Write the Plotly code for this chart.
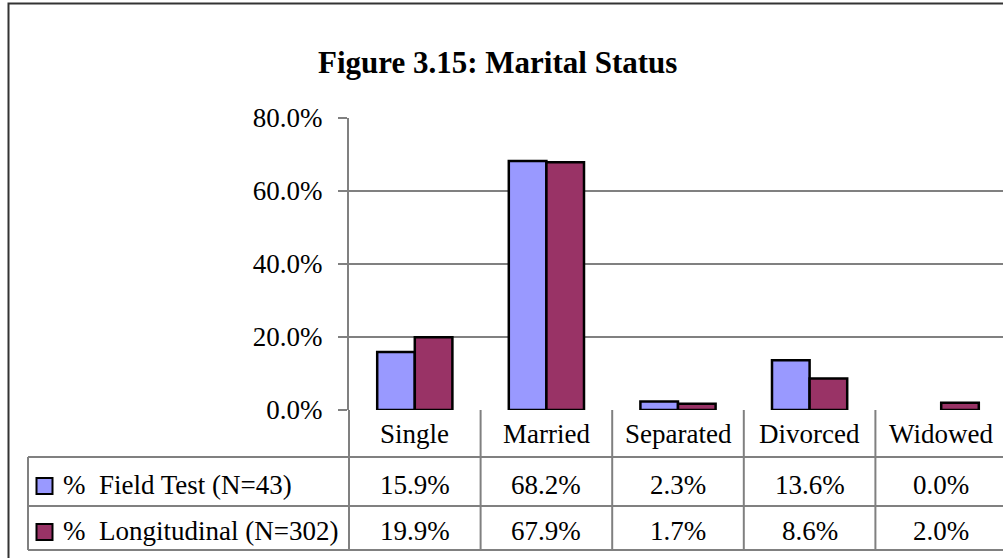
import plotly.graph_objects as go

categories = ["Single", "Married", "Separated", "Divorced", "Widowed"]
series_names = ["% Field Test (N=43)", "% Longitudinal (N=302)"]
field_test = [0.159, 0.682, 0.023, 0.136, 0.000]
longitudinal = [0.199, 0.679, 0.017, 0.086, 0.020]
y_ticks = [0.0, 0.2, 0.4, 0.6, 0.8]
colors = ["#9999FF", "#993366"]

W, H = 1003, 558
FONT = "Liberation Serif, Times New Roman, serif"


def px(x):
    return x / W


def py(y):
    return 1 - y / H


# layout geometry (pixels)
axis_x = 349
cat_w = 131.6
plot_top, plot_bottom = 118, 410
row_lines = [457, 506, 550]
table_left = 28

x_start = -0.5
x_end = x_start + (W - axis_x) / cat_w

fig = go.Figure()
for name, vals, col in zip(series_names, [field_test, longitudinal], colors):
    fig.add_trace(go.Bar(
        x=list(range(len(categories))),
        y=[v if v > 0 else None for v in vals],
        name=name,
        marker=dict(color=col, line=dict(color="black", width=2.5)),
        showlegend=False,
        hoverinfo="skip",
    ))

shapes = []
grey = "#808080"
# outer chart frame
shapes.append(dict(type="rect", xref="paper", yref="paper",
                   x0=px(8.5), x1=1.05, y0=-0.05, y1=py(3.5),
                   line=dict(color="#333333", width=2), layer="above"))
# table horizontal lines
for yl in row_lines:
    shapes.append(dict(type="line", xref="paper", yref="paper",
                       x0=px(table_left), x1=1.0, y0=py(yl), y1=py(yl),
                       line=dict(color=grey, width=2)))
# table verticals
shapes.append(dict(type="line", xref="paper", yref="paper",
                   x0=px(table_left), x1=px(table_left),
                   y0=py(row_lines[0]), y1=py(row_lines[-1]),
                   line=dict(color=grey, width=2)))
shapes.append(dict(type="line", xref="paper", yref="paper",
                   x0=px(axis_x), x1=px(axis_x),
                   y0=py(plot_bottom), y1=py(row_lines[-1]),
                   line=dict(color=grey, width=2)))
for i in range(len(categories)):
    xb = i + 0.5
    shapes.append(dict(type="line", xref="x", yref="paper",
                       x0=xb, x1=xb, y0=py(plot_bottom), y1=py(row_lines[-1]),
                       line=dict(color=grey, width=2)))

annotations = []
# title
annotations.append(dict(text="<b>Figure 3.15: Marital Status</b>", xref="paper", yref="paper",
                        x=px(497.5), y=py(62), showarrow=False,
                        font=dict(family=FONT, size=31, color="black"),
                        xanchor="center", yanchor="middle"))
# header row: category labels
for i, c in enumerate(categories):
    annotations.append(dict(text=c, xref="x", yref="paper", x=i, y=py(434),
                            showarrow=False, font=dict(family=FONT, size=27, color="black"),
                            xanchor="center", yanchor="middle"))
# data rows
row_centers = [485, 531]
for r, (name, vals, col) in enumerate(zip(series_names, [field_test, longitudinal], colors)):
    yc = row_centers[r]
    shapes.append(dict(type="rect", xref="paper", yref="paper",
                       x0=px(36.5), x1=px(52.5), y0=py(yc - 7), y1=py(yc + 9),
                       fillcolor=col, line=dict(color="black", width=2)))
    annotations.append(dict(text=name.replace("% ", "%&nbsp; ", 1), xref="paper", yref="paper",
                            x=px(61), y=py(yc), showarrow=False,
                            font=dict(family=FONT, size=27, color="black"),
                            xanchor="left", yanchor="middle"))
    for i, v in enumerate(vals):
        annotations.append(dict(text=f"{v * 100:.1f}%", xref="x", yref="paper", x=i, y=py(yc),
                                showarrow=False, font=dict(family=FONT, size=27, color="black"),
                                xanchor="center", yanchor="middle"))

fig.update_layout(
    width=W, height=H,
    margin=dict(l=0, r=0, t=0, b=0, pad=0, autoexpand=False),
    paper_bgcolor="white", plot_bgcolor="white",
    barmode="group", bargap=1 - 2 / 3.5, bargroupgap=0,
    shapes=shapes, annotations=annotations,
    hovermode=False,
    xaxis=dict(domain=[px(axis_x), 1.0], range=[x_start, x_end],
               showticklabels=False, showgrid=False, zeroline=False,
               showline=False, ticks="", automargin=False),
    yaxis=dict(domain=[py(plot_bottom), py(plot_top)], range=[0, 0.8],
               tickvals=y_ticks, tickformat=".1%", automargin=False,
               tickfont=dict(family=FONT, size=27, color="black"),
               showgrid=True, gridcolor=grey, gridwidth=2,
               zeroline=False, showline=True, linecolor=grey, linewidth=2,
               ticks="outside", ticklen=9, tickwidth=2, tickcolor=grey,
               ticklabelstandoff=10),
)

fig.write_html("out.html", config={"displayModeBar": False},
               post_script="document.body.style.margin='0';")
